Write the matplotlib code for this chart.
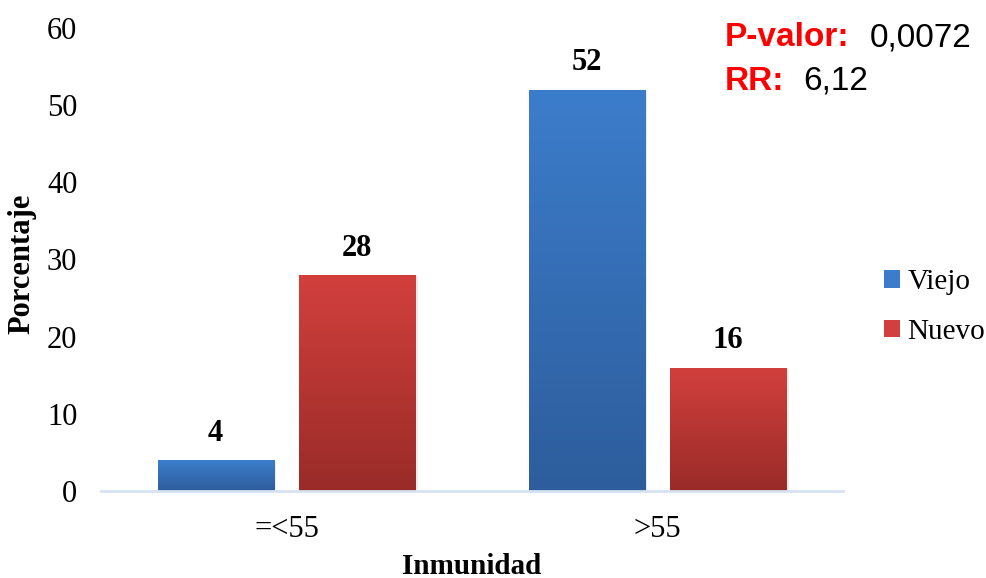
import matplotlib
matplotlib.use("Agg")
import matplotlib.pyplot as plt
import numpy as np
from matplotlib.colors import LinearSegmentedColormap
from matplotlib.patches import Rectangle

categories = ["=<55", ">55"]
series_names = ["Viejo", "Nuevo"]
viejo = [4, 52]
nuevo = [28, 16]
yticks = [0, 10, 20, 30, 40, 50, 60]

plt.rcParams['font.family'] = ['Liberation Serif', 'DejaVu Serif']

fig = plt.figure(figsize=(9.87, 5.78), dpi=100)
ax = fig.add_axes([0.1023, 0.1505, 0.854 - 0.1023, 0.9516 - 0.1505])

x = np.arange(len(categories))
width = 0.313
off = 0.191
grads = {
    "Viejo": ("#3C7DCB", "#2D5D9C"),
    "Nuevo": ("#D2403D", "#992B28"),
}
legend_handles = []
for vals, name, sign in [(viejo, "Viejo", -1), (nuevo, "Nuevo", 1)]:
    top_c, bot_c = grads[name]
    cmap = LinearSegmentedColormap.from_list(name, [bot_c, top_c])
    bars = ax.bar(x + sign * off, vals, width, color=top_c, zorder=2, label=name)
    for b, v in zip(bars, vals):
        bx, bw, bh = b.get_x(), b.get_width(), b.get_height()
        ax.add_patch(Rectangle((bx + 0.006, 0), bw, bh - 0.15, color="#000000", alpha=0.08, zorder=1, lw=0))
        grad = np.linspace(0, 1, 256).reshape(-1, 1)
        im = ax.imshow(grad, extent=(bx, bx + bw, 0, bh), origin="lower", cmap=cmap,
                       aspect="auto", zorder=3)
        im.set_clip_path(b)
        ax.text(b.get_x() + bw / 2, bh + 1.6, str(v), ha="center", va="bottom",
                fontsize=22, fontweight="bold", zorder=4)
    legend_handles.append(bars)

ax.set_xlim(-0.5, 1.5)
ax.set_ylim(0, 60)
ax.set_yticks(yticks)
ax.set_yticklabels([str(t) for t in yticks], fontsize=22)
ax.set_xticks(x)
ax.set_xticklabels(categories, fontsize=22)
ax.tick_params(axis="y", length=0, pad=17)
ax.tick_params(axis="x", length=0, pad=17)
for s in ["top", "right", "left"]:
    ax.spines[s].set_visible(False)
ax.spines["bottom"].set_color("#D6E2F2")
ax.spines["bottom"].set_linewidth(2)
ax.spines["bottom"].set_zorder(5)

fig.text(0.022, 1 - 264 / 578, "Porcentaje", rotation=90, fontsize=22, fontweight="bold",
         ha="center", va="center")
fig.text(472 / 987, 1 - 566 / 578, "Inmunidad", fontsize=21, fontweight="bold",
         ha="center", va="center")

leg = fig.legend(handles=legend_handles, labels=series_names, loc="center left",
                 bbox_to_anchor=(884 / 987, 1 - 307 / 578), frameon=False, fontsize=21,
                 handlelength=0.55, handleheight=0.55, handletextpad=0.25, labelspacing=0.8,
                 borderpad=0, borderaxespad=0)

fig.text(725 / 987, 1 - 38 / 578, "P-valor:", color="#FF0000", fontsize=24, fontweight="bold",
         family="Liberation Sans", ha="left", va="center")
fig.text(870 / 987, 1 - 38 / 578, "0,0072", color="black", fontsize=24,
         family="Liberation Sans", ha="left", va="center")
fig.text(725 / 987, 1 - 81 / 578, "RR:", color="#FF0000", fontsize=24, fontweight="bold",
         family="Liberation Sans", ha="left", va="center")
fig.text(803 / 987, 1 - 81 / 578, "6,12", color="black", fontsize=24,
         family="Liberation Sans", ha="left", va="center")

fig.savefig("out.png", dpi=100)
